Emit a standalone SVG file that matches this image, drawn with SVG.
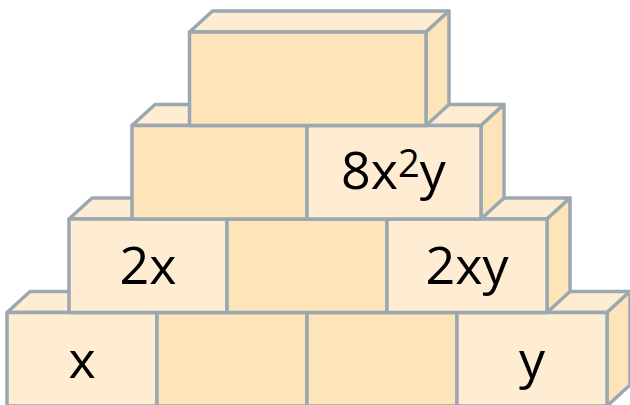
<svg xmlns="http://www.w3.org/2000/svg" width="630" height="405" viewBox="0 0 630 405">
<style>
.lt{fill:#feedd2}
.dk{fill:#fde4b9}
polygon,rect.f{stroke:#9ca8b0;stroke-width:3.5;stroke-linejoin:round}
.t{font-family:"Open Sans","Noto Sans",sans-serif;font-size:52px;fill:#000;text-anchor:middle;stroke:none}
.sup{font-size:38px}
</style>
<rect width="630" height="405" fill="#fff"/>
<!-- Row 4 -->
<g id="b4a">
<polygon class="lt" points="7,312.5 30,291.5 180,291.5 157,312.5"/>
<polygon class="dk" points="157,312.5 180,291.5 180,385 157,406"/>
<rect class="lt f" x="7" y="312.5" width="150" height="93.5"/>
<text class="t" x="82" y="378">x</text>
</g>
<g id="b4b">
<polygon class="lt" points="157,312.5 180,291.5 330,291.5 307,312.5"/>
<polygon class="dk" points="307,312.5 330,291.5 330,385 307,406"/>
<rect class="dk f" x="157" y="312.5" width="150" height="93.5"/>
</g>
<g id="b4c">
<polygon class="lt" points="307,312.5 330,291.5 480,291.5 457,312.5"/>
<polygon class="dk" points="457,312.5 480,291.5 480,385 457,406"/>
<rect class="dk f" x="307" y="312.5" width="150" height="93.5"/>
</g>
<g id="b4d">
<polygon class="lt" points="457,312.5 480,291.5 630,291.5 607,312.5"/>
<polygon class="dk" points="607,312.5 630,291.5 630,385 607,406"/>
<rect class="lt f" x="457" y="312.5" width="150" height="93.5"/>
<text class="t" x="532" y="378">y</text>
</g>
<!-- Row 3 -->
<g id="b3a">
<polygon class="lt" points="69,219 92,198 250,198 227,219"/>
<polygon class="dk" points="227,219 250,198 250,291.5 227,312.5"/>
<rect class="lt f" x="69" y="219" width="158" height="93.5"/>
<text class="t" x="148" y="284">2x</text>
</g>
<g id="b3b">
<polygon class="lt" points="227,219 250,198 410,198 387,219"/>
<polygon class="dk" points="387,219 410,198 410,291.5 387,312.5"/>
<rect class="dk f" x="227" y="219" width="160" height="93.5"/>
</g>
<g id="b3c">
<polygon class="lt" points="387,219 410,198 570,198 547,219"/>
<polygon class="dk" points="547,219 570,198 570,291.5 547,312.5"/>
<rect class="lt f" x="387" y="219" width="160" height="93.5"/>
<text class="t" x="467" y="284">2xy</text>
</g>
<!-- Row 2 -->
<g id="b2a">
<polygon class="lt" points="132,125.5 155,104.5 330,104.5 307,125.5"/>
<polygon class="dk" points="307,125.5 330,104.5 330,198 307,219"/>
<rect class="dk f" x="132" y="125.5" width="175" height="93.5"/>
</g>
<g id="b2b">
<polygon class="lt" points="307,125.5 330,104.5 504,104.5 481,125.5"/>
<polygon class="dk" points="481,125.5 504,104.5 504,198 481,219"/>
<rect class="lt f" x="307" y="125.5" width="174" height="93.5"/>
<text class="t" x="341" y="189" style="text-anchor:start">8x<tspan class="sup" dy="-12">2</tspan><tspan dy="12">y</tspan></text>
</g>
<!-- Row 1 -->
<g id="b1">
<polygon class="lt" points="189.5,32 212.5,11 449,11 426,32"/>
<polygon class="dk" points="426,32 449,11 449,104.5 426,125.5"/>
<rect class="dk f" x="189.5" y="32" width="236.5" height="93.5"/>
</g>
<g id="connectors"></g>
</svg>
